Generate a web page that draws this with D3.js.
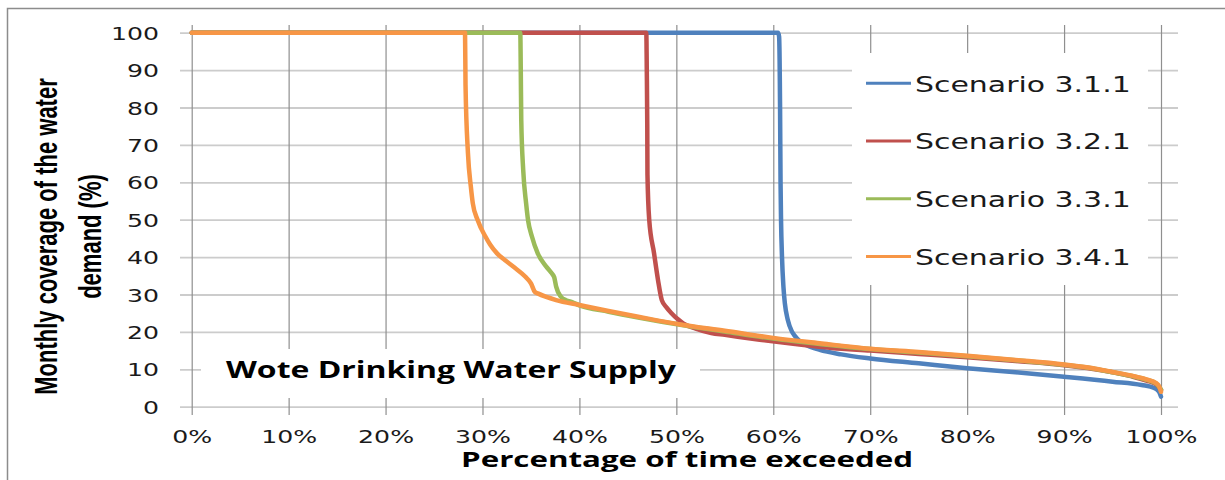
<!DOCTYPE html>
<html>
<head>
<meta charset="utf-8">
<script src="https://cdn.jsdelivr.net/npm/d3@7"></script>
<style>
  body { margin: 0; background: #fff; }
  svg { display: block; }
</style>
</head>
<body>
<svg id="chart" width="1225" height="480"></svg>
<script>
// series: [percentage of time exceeded, monthly coverage %]
const s311= [[0,100],[60.5,100],[60.6,99],[60.7,80],[60.75,60],[60.8,50],[60.9,40],[61.05,32],[61.2,27.5],[61.5,23.2],[61.9,20.2],[62.2,19],[62.7,17.6],[63.5,16.4],[64.8,15.2],[67,14],[70,12.9],[75,11.6],[80,10.3],[85,9.2],[90,8.0],[95,6.7],[98,5.8],[99.3,5.0],[99.8,4.0],[100,2.7]];
const s321= [[0,100],[46.9,100],[46.95,90],[47.0,75],[47.02,62],[47.2,50],[47.7,41],[48.1,34],[48.5,28.5],[49.0,26.5],[49.5,25],[50.1,23.5],[50.7,22.3],[52,20.9],[53.6,19.7],[55,19.2],[58.6,17.9],[62.7,16.6],[66,15.7],[70,15.0],[75,14.1],[80,13.2],[85,12.2],[90,11.1],[93,10.1],[95,9.2],[97,8.1],[98.5,7.0],[99.5,6.0],[100,4.5]];
const s331= [[0,100],[33.9,100],[33.95,90],[34.0,76.6],[34.2,63.3],[34.5,54.4],[34.7,49.9],[35.1,45.5],[35.7,41],[36.6,37.4],[37.1,35.8],[37.4,34.6],[37.6,32.1],[38.1,29.4],[38.6,28.5],[39.3,27.9],[40,27.1],[43,25.4],[46.2,23.8],[50.4,21.9],[55,20.1],[60,18.2],[65,16.7],[70,15.4],[75,14.5],[80,13.5],[85,12.4],[90,11.2],[93,10.2],[95,9.2],[97,8.2],[98.5,7.2],[99.5,6.2],[100,4.6]];
const s341= [[0,100],[28.2,100],[28.25,86],[28.5,67.8],[28.8,58.8],[29.0,54.4],[29.5,49.9],[30.3,45.5],[30.8,43.3],[31.5,41],[32.3,39.2],[33.2,37.4],[34.4,34.8],[35.0,33],[35.4,30.7],[35.7,30.3],[37.6,28.5],[40,27.2],[43,25.6],[46.2,24.0],[50.4,22.0],[55,20.3],[60,18.4],[65,16.9],[70,15.5],[75,14.6],[80,13.6],[85,12.5],[90,11.3],[93,10.3],[95,9.3],[97,8.3],[98.5,7.3],[99.5,6.3],[99.8,5.5],[100,4.0]];

const seriesNames= ['Scenario 3.1.1', 'Scenario 3.2.1', 'Scenario 3.3.1', 'Scenario 3.4.1'];
const seriesData= [s311, s321, s331, s341];
const colors= ['#4f81bd', '#c0504d', '#9bbb59', '#f79646'];
const xTicks= [0, 10, 20, 30, 40, 50, 60, 70, 80, 90, 100];
const yTicks= [0, 10, 20, 30, 40, 50, 60, 70, 80, 90, 100];

const SX= 1.36; // the source picture is stretched sideways
const svg= d3.select('#chart');

// widen text glyphs without moving their anchor
function stretch(sel, k) {
  sel.each(function() {
    const w= this.getComputedTextLength();
    d3.select(this).attr('textLength', w*k).attr('lengthAdjust', 'spacingAndGlyphs');
  });
}
function fitTo(sel, width) {
  sel.attr('textLength', width).attr('lengthAdjust', 'spacingAndGlyphs');
}

const x= d3.scaleLinear().domain([0, 100]).range([191.7, 1161]);
const y= d3.scaleLinear().domain([0, 100]).range([406.7, 32.7]);

// outer frame
svg.append('path')
  .attr('d', 'M7.5,480 V8.5 H1225')
  .attr('fill', 'none')
  .attr('stroke', '#8c8c8c')
  .attr('stroke-width', 1.5);

// y axis: light horizontal grid + labels
const yAx= svg.append('g')
  .attr('transform', 'translate(180,0)')
  .call(d3.axisLeft(y).tickValues(yTicks).tickSizeInner(-998).tickSizeOuter(0).tickFormat(d3.format('d')));
yAx.select('.domain').remove();
yAx.selectAll('line').attr('stroke', '#cccccc').attr('stroke-width', 1.8);
yAx.selectAll('text')
  .attr('x', -21).attr('dy', '0.36em')
  .attr('font-family', 'DejaVu Sans').attr('font-size', 18.5).attr('fill', '#1a1a1a')
  .call(stretch, SX);

// x axis: darker vertical grid + labels
const xAx= svg.append('g')
  .attr('transform', 'translate(0,415)')
  .call(d3.axisBottom(x).tickValues(xTicks).tickSizeInner(-390).tickSizeOuter(0).tickFormat(d => d+'%'));
xAx.select('.domain').remove();
xAx.selectAll('line').attr('stroke', '#8f8f8f').attr('stroke-width', 1.2);
xAx.selectAll('text')
  .attr('y', 27.7).attr('dy', 0)
  .attr('font-family', 'DejaVu Sans').attr('font-size', 18.5).attr('fill', '#1a1a1a')
  .call(stretch, SX);

// inner title box
svg.append('rect')
  .attr('x', 201).attr('y', 349).attr('width', 499).attr('height', 49)
  .attr('fill', '#fff');
svg.append('text')
  .attr('x', 226).attr('y', 378)
  .attr('font-family', 'Open Sans').attr('font-weight', 700).attr('font-size', 23)
  .attr('fill', '#000')
  .text('Wote Drinking Water Supply')
  .call(fitTo, 450);

// legend box
svg.append('rect')
  .attr('x', 852).attr('y', 53).attr('width', 296).attr('height', 232)
  .attr('fill', '#fff');

// lines
const line= d3.line()
  .x(d => x(d[0]))
  .y(d => y(d[1]))
  .curve(d3.curveMonotoneX);

svg.append('g').selectAll('path')
  .data(seriesData)
  .join('path')
  .attr('d', line)
  .attr('fill', 'none')
  .attr('stroke', (_, i) => colors[i])
  .attr('stroke-width', 4.5)
  .attr('stroke-linejoin', 'round')
  .attr('stroke-linecap', 'round');

// legend entries
const leg= svg.append('g').selectAll('g')
  .data(seriesNames)
  .join('g')
  .attr('transform', (_, i) => `translate(866,${83.3+i*57.7})`);
leg.append('line')
  .attr('x1', 0).attr('x2', 45)
  .attr('stroke', (_, i) => colors[i])
  .attr('stroke-width', 3);
leg.append('text')
  .attr('x', 49).attr('y', 8.3)
  .attr('font-family', 'DejaVu Sans').attr('font-size', 22)
  .attr('fill', '#1a1a1a')
  .text(d => d)
  .call(stretch, SX);

// axis titles
svg.append('text')
  .attr('x', 687).attr('y', 467)
  .attr('text-anchor', 'middle')
  .attr('font-family', 'Open Sans').attr('font-weight', 700).attr('font-size', 22)
  .attr('fill', '#000')
  .text('Percentage of time exceeded')
  .call(fitTo, 452);

const yTitle= svg.append('g')
  .attr('transform', `translate(57,236.5) scale(1.46,1) rotate(-90)`)
  .attr('font-family', '"Liberation Sans Narrow", "Liberation Sans"')
  .attr('font-weight', 700).attr('font-size', 22)
  .attr('text-anchor', 'middle').attr('fill', '#000');
yTitle.append('text').attr('y', 0).text('Monthly coverage of the water');
yTitle.append('text').attr('y', 30).text('demand (%)');
</script>
</body>
</html>
